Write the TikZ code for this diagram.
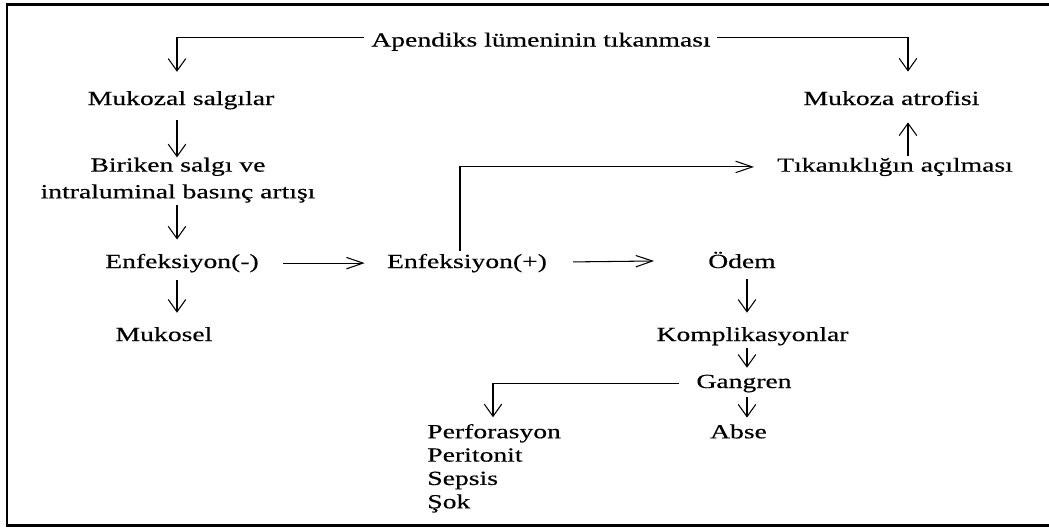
\documentclass[tikz,border=0pt]{standalone}
\usepackage{fontspec}
\setmainfont[FakeStretch=1.38,FakeBold=0.4]{Liberation Serif}
\usetikzlibrary{arrows.meta}

\tikzset{
  yazi/.style={inner sep=0pt,anchor=base,font=\fontsize{11.4}{13.3}\selectfont},
  ok/.style={line width=0.6pt,-{Straight Barb[length=7pt,width=10pt]}},
  yok/.style={line width=0.6pt,-{Straight Barb[length=9.5pt,width=6.5pt]}},
}

\begin{document}
\begin{tikzpicture}[x=0.02cm,y=-0.02cm]
\useasboundingbox (0,0) rectangle (1049,529);
\draw[line width=1.7pt] (7,4.5) rectangle (1070,525.5);

% columns for the arrows
\coordinate (sol) at (177,0);
\coordinate (sag) at (908,0);
\coordinate (orta) at (747,0);
\coordinate (enf) at (460,0);
\coordinate (alt) at (493,0);

\node[yazi] (ap) at (541,46.5) {Apendiks lümeninin tıkanması};
\node[yazi] (ms) at (181,105) {Mukozal salgılar};
\node[yazi] (ma) at (891.5,105) {Mukoza atrofisi};
\node[yazi,align=center] (bs) at (178,198.3) {Biriken salgı ve\\[1.9pt]intraluminal basınç artışı};
\node[yazi] (ta) at (895,171.7) {Tıkanıklığın açılması};
\node[yazi] (en) at (182,268) {Enfeksiyon(-)};
\node[yazi] (ep) at (467,268) {Enfeksiyon(+)};
\node[yazi] (od) at (742,268) {Ödem};
\node[yazi] (mk) at (164,341) {Mukosel};
\node[yazi] (ko) at (752.5,341) {Komplikasyonlar};
\node[yazi] (ga) at (744,388) {Gangren};
\node[yazi] (ab) at (738.5,438.3) {Abse};
\node[yazi,anchor=base west,align=left] (pe) at (427,508.3) {Perforasyon\\Peritonit\\Sepsis\\Şok};

\draw[ok,shorten <=4pt,shorten >=10.8pt] ([yshift=2.4pt]ap.west) -| (ms.north -| sol);
\draw[ok,shorten <=3.4pt,shorten >=10.8pt] ([yshift=2.4pt]ap.east) -| (ma.north -| sag);
\draw[ok,shorten <=6pt] (ms.south -| sol) -- (bs.north -| sol);
\draw[ok,shorten <=1.4pt,shorten >=8pt] (bs.south -| sol) -- (en.north -| sol);
\draw[ok,shorten <=4.3pt,shorten >=8pt] (en.south -| sol) -- (mk.north -| sol);
\draw[yok,shorten <=13.6pt,shorten >=12.5pt] (en) -- (ep);
\draw[yok,shorten <=14.7pt,shorten >=30.6pt] (ep) -- (od);
\draw[yok,shorten <=1.4pt,shorten >=13pt] (ep.north -| enf) |- (ta.west);
\draw[ok,shorten <=0.6pt,shorten >=9.6pt] (ta.north -| sag) -- (ma.south -| sag);
\draw[ok,shorten <=6.2pt,shorten >=8pt] (od.south -| orta) -- (ko.north -| orta);
\draw[ok,shorten <=1.5pt,shorten >=3.8pt] (ko.south -| orta) -- (ga.north -| orta);
\draw[ok,shorten <=2.6pt,shorten >=3.7pt] (ga.south -| orta) -- (ab.north -| orta);
\draw[ok,shorten <=9.6pt,shorten >=3.7pt] (ga.west) -| (pe.north -| alt);

\end{tikzpicture}
\end{document}
